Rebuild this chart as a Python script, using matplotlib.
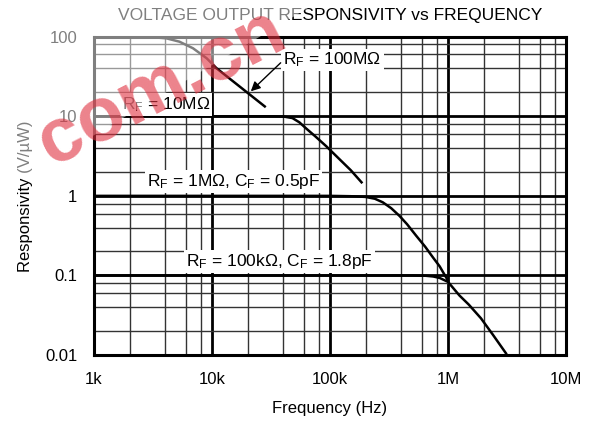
import matplotlib
matplotlib.use("Agg")
import matplotlib.pyplot as plt
from matplotlib.patches import Polygon
from matplotlib.ticker import FixedLocator, NullFormatter

plt.rcParams['font.family'] = ['Liberation Sans', 'DejaVu Sans']
plt.rcParams['mathtext.fontset'] = 'custom'
plt.rcParams['mathtext.rm'] = 'Liberation Sans'
plt.rcParams['mathtext.it'] = 'Liberation Sans:italic'

# data
freq_100M = [1e3, 2e3, 3e3, 4.1e3, 5.3e3, 6.9e3, 9e3, 10.9e3, 28e3]
resp_100M = [100, 100, 99, 95.5, 86.6, 71.6, 53.7, 40.3, 13.3]

freq_10M = [1e3, 10e3, 30e3, 40e3, 48e3, 55e3, 63e3, 75e3, 93e3, 120e3, 150e3, 185e3]
resp_10M = [10, 10, 10, 9.95, 9.5, 8.4, 7.0, 5.6, 4.2, 2.9, 2.1, 1.48]

freq_1M = [1e3, 100e3, 150e3, 200e3, 240e3, 280e3, 330e3, 388e3, 450e3, 537e3, 640e3, 742e3, 850e3, 1e6]
resp_1M = [1, 1, 0.99, 0.97, 0.92, 0.83, 0.7, 0.56, 0.44, 0.316, 0.23, 0.17, 0.13, 0.086]

freq_100k = [1e3, 300e3, 500e3, 650e3, 750e3, 850e3, 1e6, 1.25e6, 1.5e6, 1.9e6, 2.4e6, 3.1e6]
resp_100k = [0.1, 0.1, 0.1, 0.099, 0.097, 0.093, 0.083, 0.056, 0.043, 0.029, 0.018, 0.0105]

x_ticks = [1e3, 1e4, 1e5, 1e6, 1e7]
x_labels = ['1k', '10k', '100k', '1M', '10M']
y_ticks = [0.01, 0.1, 1, 10, 100]
y_labels = ['0.01', '0.1', '1', '10', '100']

fig = plt.figure(figsize=(5.98, 4.24), dpi=100)
ax = fig.add_axes([0.1572, 0.1627, 0.7893, 0.7507])
ax.set_xscale('log')
ax.set_yscale('log')
ax.set_xlim(1e3, 1e7)
ax.set_ylim(0.01, 100)

# grid: heavy decades, lighter 2-4-6-8
minor = [m * 10.0 ** d for d in range(-3, 8) for m in (2, 4, 6, 8)]
ax.xaxis.set_major_locator(FixedLocator(x_ticks))
ax.yaxis.set_major_locator(FixedLocator(y_ticks))
ax.xaxis.set_minor_locator(FixedLocator(minor))
ax.yaxis.set_minor_locator(FixedLocator(minor))
ax.xaxis.set_minor_formatter(NullFormatter())
ax.yaxis.set_minor_formatter(NullFormatter())
ax.set_xticklabels(x_labels)
ax.set_yticklabels(y_labels)
ax.grid(True, which='major', color='black', lw=2.0)
ax.grid(True, which='minor', color='#333333', lw=1.0)
ax.tick_params(which='both', length=0, labelsize=12)
ax.tick_params(axis='x', pad=12)
ax.tick_params(axis='y', pad=12)
for s in ax.spines.values():
    s.set_linewidth(2.2)

# curves
for f, r in [(freq_100M, resp_100M), (freq_10M, resp_10M),
             (freq_1M, resp_1M), (freq_100k, resp_100k)]:
    ax.plot(f, r, color='black', lw=1.8, zorder=3)

box = dict(fc='white', ec='none', pad=1.5)
fs = 12.5
ax.text(105e3, 51, r'R$_{\rm F}$ = 100MΩ', fontsize=fs, ha='center', va='center', bbox=box, zorder=4)
ax.text(4.07e3, 14.0, r'R$_{\rm F}$ = 10MΩ', fontsize=fs, ha='center', va='center', bbox=box, zorder=4)
ax.text(15.3e3, 1.53, r'R$_{\rm F}$ = 1MΩ, C$_{\rm F}$ = 0.5pF', fontsize=fs, ha='center', va='center', bbox=box, zorder=4)
ax.text(37.5e3, 0.148, r'R$_{\rm F}$ = 100kΩ, C$_{\rm F}$ = 1.8pF', fontsize=fs, ha='center', va='center', bbox=box, zorder=4)
ax.annotate('', xy=(20.5e3, 19.5), xytext=(39.7e3, 49.7),
            arrowprops=dict(arrowstyle='-|>', color='black', lw=1.0, mutation_scale=14), zorder=4)

ax.set_title('VOLTAGE OUTPUT RESPONSIVITY vs FREQUENCY', fontsize=12.5, pad=12)
ax.set_xlabel('Frequency (Hz)', fontsize=12, labelpad=10)
ax.set_ylabel('Responsivity (V/µW)', fontsize=12, labelpad=9)

# watermark: washed-out corner plus red text
fade = Polygon([(0, 1), (0, 1 - 191 / 424), (321.6 / 598, 1)], closed=True,
               transform=fig.transFigure, fc='white', ec='none', alpha=0.5, zorder=5)
fig.add_artist(fade)
fig.text(162 / 598, 1 - 88 / 424, 'com.cn', fontsize=55, fontweight='bold', color='#e0303f',
         alpha=0.6, rotation=27, ha='center', va='center', zorder=6)

fig.savefig('out.png', dpi=100)
